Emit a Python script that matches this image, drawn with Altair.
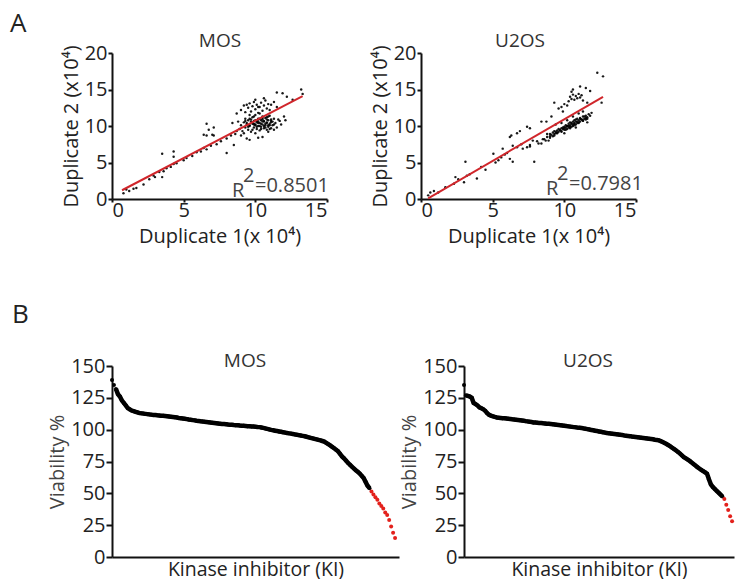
import altair as alt
import pandas as pd

FONT = "Open Sans"

# ---------------- Panel A data (x10^4) ----------------
mos_dup1 = [0.8, 1.0, 1.2, 1.5, 1.7, 2.2, 2.6, 2.9, 3.0, 3.3, 3.5, 3.6, 3.8, 4.1, 4.3, 4.5, 3.5, 4.3, 4.3, 5.0,
            5.2, 5.6, 5.9, 6.2, 6.4, 6.6, 6.9, 6.6, 7.1, 6.6, 7.1, 6.75, 6.4, 7.0, 7.3, 7.6, 8.0, 8.0, 8.3, 8.5,
            8.6, 8.7, 9.4, 10.5,
            9.0, 9.2, 9.3, 9.5, 9.6, 9.7, 9.8, 9.9, 10.0, 10.1, 10.2, 10.3, 10.4, 10.5, 10.6, 10.7, 10.8, 10.9,
            11.0, 11.1, 11.3, 11.5, 10.6, 11.5, 11.9, 12.2, 12.6, 13.2, 13.3, 9.4, 10.0, 10.2,
            8.7, 8.4, 8.8, 8.9, 9.0, 9.1, 9.2, 9.3, 9.3, 9.4, 9.5, 9.5, 9.6, 9.7, 9.7, 9.8, 9.8, 9.9, 9.9, 10.0,
            10.0, 10.1, 10.1, 10.2, 10.2, 10.3, 10.3, 10.4, 10.4, 10.5, 10.5, 10.6, 10.6, 10.7, 10.7, 10.8, 10.8,
            10.9, 10.9, 11.0, 11.0, 11.1, 11.1, 11.2, 11.3, 11.4, 11.5, 11.6, 11.7, 11.8, 12.0, 12.1, 9.6, 10.3,
            9.2, 9.0, 10.0, 10.9, 11.3, 10.2, 9.6,
            9.4, 9.6, 9.8, 10.0, 10.2, 10.4, 10.6, 10.8, 11.0, 11.2, 9.5, 9.7, 9.9, 10.1, 10.3, 10.5, 10.7, 10.9,
            11.1, 11.3, 9.3, 9.6, 9.9, 10.2, 10.5, 10.8, 11.1, 9.8, 10.1, 10.4, 10.7, 11.0, 10.0, 10.3, 10.6, 10.9,
            9.9, 10.5, 10.2, 10.8]
mos_dup2 = [0.8, 1.3, 1.1, 1.4, 1.5, 2.0, 2.7, 3.2, 3.0, 3.7, 3.0, 3.8, 4.2, 4.4, 4.8, 4.9, 6.2, 6.5, 5.8, 5.3,
            5.6, 5.9, 6.4, 6.5, 7.0, 6.8, 7.3, 8.7, 8.7, 10.3, 9.8, 9.5, 8.8, 8.8, 7.5, 7.9, 6.3, 8.3, 8.7, 7.4,
            8.9, 9.3, 8.3, 8.5,
            12.2, 12.8, 11.9, 12.5, 13.1, 12.0, 12.7, 13.3, 12.3, 12.9, 11.8, 12.6, 13.2, 12.1, 12.8, 13.5, 12.4,
            13.0, 12.2, 12.9, 13.3, 12.6, 13.8, 14.6, 14.5, 14.0, 13.6, 15.0, 14.4, 12.9, 13.6, 12.6,
            11.7, 10.4, 10.6, 9.6, 10.1, 9.3, 10.5, 9.8, 11.0, 10.2, 9.5, 10.8, 10.0, 10.6, 9.2, 10.3, 11.2, 9.8,
            10.7, 10.1, 11.5, 9.6, 10.5, 10.0, 11.0, 9.4, 10.4, 10.8, 9.9, 10.2, 11.3, 9.7, 10.6, 10.1, 11.1, 9.5,
            10.4, 10.8, 9.9, 10.3, 11.4, 9.7, 10.7, 10.1, 11.0, 10.4, 9.8, 10.9, 10.7, 10.2, 11.3, 10.8, 11.5,
            11.7, 9.0, 8.7, 9.0, 9.2, 9.5, 8.4, 8.1,
            10.4, 10.1, 10.5, 10.2, 10.6, 10.3, 10.0, 10.5, 10.1, 10.6, 9.9, 10.9, 10.2, 10.7, 10.0, 10.9, 10.3,
            10.1, 10.5, 10.2, 10.7, 11.0, 11.3, 10.9, 11.1, 11.2, 10.9, 9.5, 9.9, 9.6, 9.8, 9.6, 10.8, 11.0, 10.7,
            11.3, 10.3, 10.6, 10.4, 10.9]

u2os_dup1 = [0.65, 0.9, 1.2, 0.5, 1.7, 2.3, 2.4, 2.6, 3.0, 3.1, 3.2, 3.4, 3.9, 4.5, 4.2, 5.05, 5.4, 5.6, 5.85,
             6.2, 6.4, 5.7, 5.2, 6.0, 6.4, 6.7, 7.1, 7.4, 7.6, 7.9, 8.2, 7.6, 8.1, 6.2, 6.3, 6.7, 6.9, 7.4, 7.6,
             8.4, 8.75, 9.1, 9.3, 9.6, 9.9, 7.0, 7.8, 8.5, 8.8,
             10.3, 10.4, 10.5, 10.5, 10.6, 10.7, 10.8, 10.9, 11.0, 11.1, 11.1, 11.2, 11.5, 10.2, 10.0, 9.8, 11.3,
             11.6, 12.3, 12.7, 12.6, 11.8, 10.6,
             8.6, 8.8, 9.0, 9.0, 9.1, 9.2, 9.3, 9.3, 9.4, 9.5, 9.5, 9.6, 9.6, 9.7, 9.8, 9.8, 9.9, 10.0, 10.0, 10.1,
             10.1, 10.2, 10.2, 10.3, 10.3, 10.4, 10.4, 10.5, 10.5, 10.6, 10.6, 10.7, 10.7, 10.8, 10.8, 10.9, 10.9,
             11.0, 11.0, 11.1, 11.1, 11.2, 11.3, 11.3, 11.4, 11.5, 11.5, 11.6, 11.7, 9.4, 9.8, 10.2, 10.6, 11.0,
             11.3, 8.4, 8.9, 10.0, 10.8, 11.6,
             9.2, 9.5, 9.8, 10.1, 10.4, 10.7, 11.0, 11.3, 11.6, 9.4, 9.7, 10.0, 10.3, 10.6, 10.9, 11.2, 11.5,
             9.9, 10.2, 10.5, 10.8, 11.1, 11.4, 8.7, 9.0, 9.3, 11.8, 11.9, 10.7, 10.4]
u2os_dup2 = [0.9, 1.1, 0.9, 0.5, 1.6, 2.1, 3.0, 2.7, 2.3, 5.1, 3.2, 3.4, 2.8, 4.0, 4.4, 6.2, 5.3, 5.7, 6.1,
             5.5, 5.1, 6.9, 5.0, 6.3, 7.3, 7.1, 6.9, 7.1, 7.4, 5.1, 7.6, 7.2, 7.9, 8.5, 8.7, 9.0, 9.3, 9.9, 9.7,
             10.6, 10.6, 11.3, 13.2, 12.4, 12.0, 7.5, 8.0, 8.2, 8.9,
             13.4, 14.0, 14.7, 13.7, 14.3, 13.6, 14.1, 13.8, 14.4, 15.4, 13.9, 14.2, 15.2, 12.8, 13.0, 12.6, 13.5,
             13.2, 17.3, 16.8, 13.2, 14.8, 15.0,
             8.2, 8.5, 8.6, 8.9, 8.8, 9.1, 8.9, 9.3, 9.0, 9.4, 9.1, 9.6, 9.2, 9.4, 9.7, 9.3, 9.6, 9.9, 9.5, 9.8,
             10.1, 9.6, 10.0, 10.3, 9.8, 10.1, 10.5, 9.9, 10.3, 10.6, 10.0, 10.4, 10.8, 10.2, 10.6, 11.0, 10.4,
             10.8, 10.5, 11.1, 10.6, 10.9, 11.3, 10.7, 11.0, 11.4, 10.9, 11.2, 11.6, 10.2, 10.4, 10.8, 11.3, 11.7,
             12.0, 7.6, 8.0, 9.0, 9.8, 10.5,
             8.6, 9.0, 9.2, 9.5, 9.9, 10.1, 10.4, 10.8, 11.0, 9.2, 9.5, 9.7, 10.0, 10.2, 10.6, 10.9, 11.1,
             9.8, 10.0, 10.4, 10.9, 11.0, 11.3, 8.0, 8.4, 8.7, 11.4, 11.8, 10.3, 9.7]

mos_fit_x = [0.7, 13.3]
mos_fit_y = [1.2, 14.1]
u2os_fit_x = [0.5, 12.7]
u2os_fit_y = [0.1, 14.0]

mos_r2 = "0.8501"
u2os_r2 = "0.7981"

a_x_ticks = [0, 5, 10, 15]
a_y_ticks = [0, 5, 10, 15, 20]
b_y_ticks = [0, 25, 50, 75, 100, 125, 150]

# ---------------- Panel B data (viability %, ranked) ----------------
mos_black = [139, 135, 132, 128, 126, 123, 121, 119, 117, 116, 115, 114.5, 114, 113.5, 113,
             112.8, 112.6, 112.4, 112.2, 112.0, 111.8, 111.6, 111.5, 111.3, 111.2, 111.0, 110.9, 110.7,
             110.5, 110.3, 110.1, 109.9, 109.7, 109.5, 109.2, 109.0, 108.8, 108.6, 108.3, 108.0, 107.8, 107.5,
             107.3, 107.0,
             106.8, 106.6, 106.5, 106.3, 106.1, 105.9, 105.7, 105.5, 105.3, 105.1, 104.9, 104.7, 104.5, 104.4,
             104.2, 104.0,
             103.9, 103.8, 103.6, 103.5, 103.4, 103.2, 103.1, 103.0, 102.9, 102.7, 102.6, 102.5, 102.4, 102.3,
             102.1, 102.0,
             101.7, 101.4, 101.0, 100.6, 100.2, 99.8, 99.5, 99.2, 98.9, 98.6, 98.3, 98.0, 97.7, 97.4, 97.1, 96.9,
             96.6,
             96.3, 96.0, 95.7, 95.4, 95.1, 94.8, 94.4, 94.0,
             93.6, 93.2, 92.8, 92.4, 92.0, 91.6, 91.1, 90.6,
             89.6, 88.6, 87.6, 86.5, 85.4, 84.2, 83.0,
             81.0, 79.0, 77.5, 75.8, 74.0,
             72.5, 71.0, 69.6, 68.2, 67.0, 65.5, 63.8, 62.0,
             59.0, 56.0, 54.0]
mos_red = [51.5, 49, 47, 45, 42, 40, 38, 35, 33, 29, 24, 19, 15]

u2os_black = [135, 127, 126.5, 126, 125, 121, 120, 119, 117.5, 116.8, 116, 114.8, 113, 111.7, 111, 110.5, 110,
              109.6,
              109.4, 109.2, 109.0, 108.9, 108.7, 108.5, 108.3, 108.1, 108.0, 107.8, 107.6,
              107.4, 107.2, 107.0, 106.7, 106.5, 106.3, 106.0, 105.7,
              105.6, 105.5, 105.3, 105.2, 105.0, 104.9, 104.7, 104.6, 104.4,
              104.2, 104.0, 103.8, 103.6, 103.4, 103.2, 103.0, 102.8, 102.6, 102.4, 102.2, 102.0, 101.8, 101.6,
              101.5, 101.3,
              101.0, 100.7, 100.4, 100.1, 99.8, 99.5, 99.2, 98.9, 98.6, 98.3, 98.0, 97.7, 97.4, 97.1,
              97.0, 96.8, 96.6, 96.4, 96.2, 96.0, 95.8, 95.5, 95.3,
              95.1, 94.9, 94.6, 94.4, 94.2, 94.0, 93.8, 93.6, 93.4, 93.2, 93.0, 92.8, 92.6, 92.4, 92.1, 91.9, 91.6,
              91.0, 90.3, 89.5, 88.7, 87.8, 86.8,
              85.8, 84.7, 83.6, 82.4, 81.2, 79.8, 78.4,
              77.5, 76.5, 75.5, 74.3, 73.0, 71.8, 70.6,
              69.5, 68.5, 67.5, 66.5, 65.4,
              61, 57, 55, 53.5,
              52, 50.5, 49, 47.5]
u2os_red = [45.5, 41, 37, 32, 28]

# ---------------- styling helpers ----------------
TXT = "#222222"
AX = "#111111"


def label(text, x, y, size=18, color=TXT, align="left", baseline="alphabetic"):
    return alt.Chart(pd.DataFrame({"t": [text]})).mark_text(
        font=FONT, fontSize=size, color=color, align=align, baseline=baseline
    ).encode(x=alt.value(x), y=alt.value(y), text="t:N")


def scatter_panel(xs, ys, fx, fy, title, r2, tpos, rpos, letter=None):
    df = pd.DataFrame({"d1": xs, "d2": ys})
    fit = pd.DataFrame({"d1": fx, "d2": fy})
    xsc = alt.Scale(domain=[0, 15], nice=False, zero=True)
    ysc = alt.Scale(domain=[0, 20], nice=False, zero=True)
    xax = alt.Axis(values=a_x_ticks, title="Duplicate 1(x 10⁴)", tickSize=3, labelPadding=-2,
                   titleFontSize=20, titlePadding=6, labelFontSize=20, labelOverlap=False)
    yax = alt.Axis(values=a_y_ticks, title="Duplicate 2 (x10⁴)", tickSize=4, labelPadding=1,
                   titleFontSize=20, titlePadding=3, labelFontSize=20, labelOverlap=False)
    pts = alt.Chart(df).mark_circle(size=6, color="black", opacity=0.9).encode(
        x=alt.X("d1:Q", scale=xsc, axis=xax), y=alt.Y("d2:Q", scale=ysc, axis=yax))
    line = alt.Chart(fit).mark_line(color="#d0262b", strokeWidth=2).encode(
        x=alt.X("d1:Q", scale=xsc, axis=xax), y=alt.Y("d2:Q", scale=ysc, axis=yax))
    layers = [pts, line,
              label(title, tpos[0], tpos[1], size=19, color="#333333", align="center"),
              label("R", rpos[0], rpos[1], size=20, color="#444444"),
              label("2", rpos[0] + 11, rpos[1] - 15, size=20, color="#444444"),
              label("=" + r2, rpos[0] + 23, rpos[1] - 5, size=20, color="#444444")]
    if letter:
        layers.append(label(letter, -102, -21, size=26, color=TXT))
    return alt.layer(*layers).properties(width=215, height=146)


def rank_panel(black, red, width, title, tpos, letter=None, domain_max=145):
    dfb = pd.DataFrame({"rank": list(range(len(black))), "v": black})
    dfr = pd.DataFrame({"rank": list(range(len(black), len(black) + len(red))), "v": red})
    xsc = alt.Scale(domain=[0, domain_max], nice=False)
    ysc = alt.Scale(domain=[0, 150], nice=False)
    xax = alt.Axis(ticks=False, labels=False, title="Kinase inhibitor (KI)", titleFontSize=19.5,
                   titlePadding=3)
    yax = alt.Axis(values=b_y_ticks, title="Viability %", tickSize=6,
                   labelPadding=1, labelFontSize=20, titleFontSize=20, titlePadding=3,
                   titleColor="#444444", labelOverlap=False)
    ln = alt.Chart(dfb).transform_filter("datum.v < 134").mark_line(
        color="black", strokeWidth=4.5).encode(
        x=alt.X("rank:Q", scale=xsc, axis=xax), y=alt.Y("v:Q", scale=ysc, axis=yax))
    bp = alt.Chart(dfb).mark_circle(size=16, color="black", opacity=1).encode(
        x=alt.X("rank:Q", scale=xsc, axis=xax), y=alt.Y("v:Q", scale=ysc, axis=yax))
    rp = alt.Chart(dfr).mark_circle(size=16, color="#e3211c", opacity=1).encode(
        x=alt.X("rank:Q", scale=xsc, axis=xax), y=alt.Y("v:Q", scale=ysc, axis=yax))
    layers = [ln, bp, rp, label(title, tpos[0], tpos[1], size=19, color="#333333", align="center")]
    if letter:
        layers.append(label(letter, -100, -43, size=26, color=TXT))
    return alt.layer(*layers).properties(width=width, height=191)


mosA = scatter_panel(mos_dup1, mos_dup2, mos_fit_x, mos_fit_y, "MOS", mos_r2, (108, -6), (120, 144), "A")
u2A = scatter_panel(u2os_dup1, u2os_dup2, u2os_fit_x, u2os_fit_y, "U2OS", u2os_r2, (99, -6), (125, 142))
mosB = rank_panel(mos_black, mos_red, 287, "MOS", (133, 1), "B", domain_max=146)
u2B = rank_panel(u2os_black, u2os_red, 270, "U2OS", (124, 1), domain_max=140)

top = alt.hconcat(mosA, u2A, spacing=94, bounds="flush")
bot = alt.hconcat(mosB, u2B, spacing=65, bounds="flush")

chart = alt.vconcat(top, bot, spacing=313, bounds="flush").properties(
    padding={"left": 2, "top": 3, "right": 0, "bottom": 0}
).configure_view(stroke=None).configure_axis(
    grid=False, domainColor=AX, domainWidth=2, tickColor=AX, tickWidth=2,
    labelFont=FONT, titleFont=FONT, labelColor=TXT, titleColor=TXT, titleFontWeight="normal"
)

chart.save("out.html", embed_options={"renderer": "svg", "actions": False})
